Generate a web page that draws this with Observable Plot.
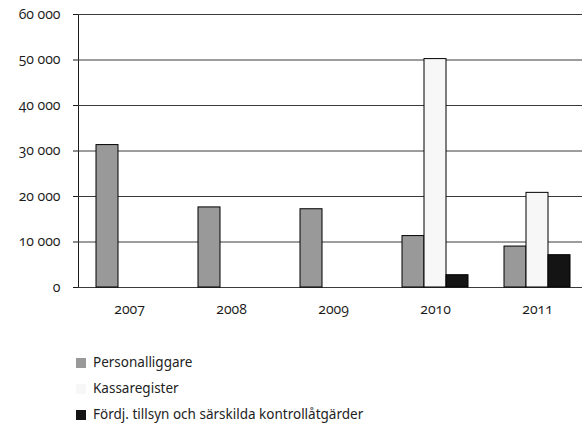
<!DOCTYPE html>
<html><head><meta charset="utf-8">
<script src="https://cdn.jsdelivr.net/npm/d3@7"></script>
<script src="https://cdn.jsdelivr.net/npm/@observablehq/plot@0.6"></script>
<style>
body{margin:0;background:#fff;font-family:"Noto Sans",sans-serif;}
#wrap{width:582px;height:425px;overflow:hidden;position:relative;background:#fff;}
#chart{width:582px;height:330px;overflow:hidden;}
#legend{position:absolute;left:0;top:350px;}
.row{position:relative;height:26px;font-size:13.5px;color:#222;line-height:26px;}
.sw{position:absolute;left:76px;top:8px;width:10px;height:10px;}
.lab{position:absolute;left:93px;top:-1px;white-space:nowrap;}
</style></head><body>
<div id="wrap"><div id="chart"></div><div id="legend"></div></div>
<script>
const years = ["2007", "2008", "2009", "2010", "2011"];
const seriesNames = ["Personalliggare", "Kassaregister", "Fördj. tillsyn och särskilda kontrollåtgärder"];
const personalliggare = [31300, 17600, 17200, 11300, 9000];
const kassaregister = [null, null, null, 50200, 20800];
const fordj = [null, null, null, 2700, 7100];
const colors = ["#999999", "#f7f7f7", "#141414"];
const yTicks = [0, 10000, 20000, 30000, 40000, 50000, 60000];

const seriesValues = [personalliggare, kassaregister, fordj];
const data = [];
years.forEach((yr, i) => {
  seriesNames.forEach((s, j) => {
    const v = seriesValues[j][i];
    if (v != null) data.push({year: yr, series: s, value: v});
  });
});

const fmt = d => d3.format(",")(d).replace(/,/g, " ");

const chart = Plot.plot({
  width: 582,
  height: 330,
  marginLeft: 76,
  marginRight: -7,
  marginTop: 14,
  marginBottom: 43,
  style: {fontFamily: "'Open Sans', sans-serif", fontSize: "14px", color: "#1a1a1a", background: "#fff"},
  fx: {domain: years, padding: 0, axis: "bottom", tickSize: 0, tickPadding: 17, label: null},
  x: {domain: seriesNames, axis: null, paddingInner: 0, paddingOuter: 0.728},
  y: {domain: [0, 60000], ticks: yTicks, tickSize: 5, tickPadding: 13, line: true, label: null, tickFormat: fmt},
  color: {domain: seriesNames, range: colors},
  marks: [
    Plot.ruleY(yTicks, {stroke: "#3a3a3a", strokeWidth: 1}),
    Plot.barY(data, {fx: "year", x: "series", y: "value", fill: "series", stroke: "#000", strokeWidth: 1})
  ]
});
chart.querySelectorAll("text").forEach(t => {
  t.setAttribute("font-size", "14");
  t.style.fontVariantNumeric = "oldstyle-nums";
});
document.getElementById("chart").appendChild(chart);

const legend = document.getElementById("legend");
seriesNames.forEach((s, j) => {
  const row = document.createElement("div");
  row.className = "row";
  const sw = document.createElement("span");
  sw.className = "sw";
  sw.style.background = colors[j];
  const lab = document.createElement("span");
  lab.className = "lab";
  lab.textContent = s;
  row.appendChild(sw);
  row.appendChild(lab);
  legend.appendChild(row);
});
</script>
</body></html>
